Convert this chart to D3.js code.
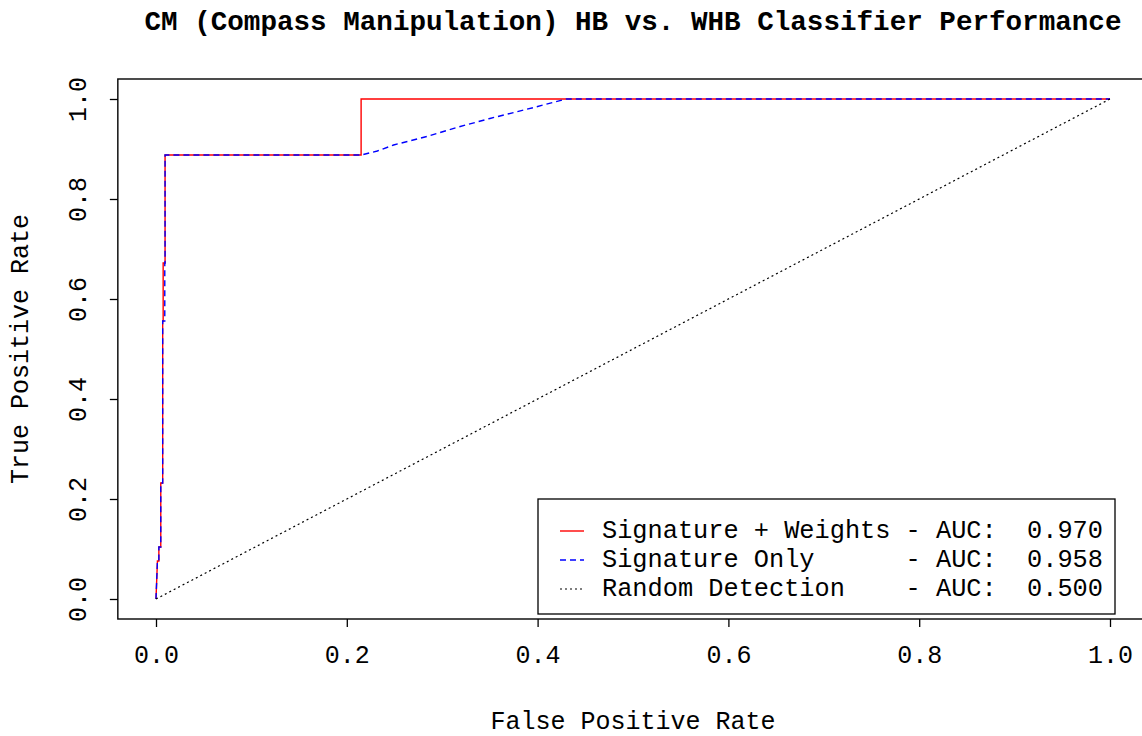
<!DOCTYPE html>
<html>
<head>
<meta charset="utf-8">
<script src="https://cdn.jsdelivr.net/npm/d3@7"></script>
<style>
  html, body { margin: 0; padding: 0; background: #fff; }
  svg { display: block; }
  text { font-family: "Liberation Mono", "DejaVu Sans Mono", monospace; fill: #000; }
</style>
</head>
<body>
<svg id="chart" width="1142" height="736"></svg>
<script>
// ROC curve points (false positive rate, true positive rate)
const sigWeightsFPR = [0, 0.0015, 0.003, 0.003, 0.005, 0.005, 0.007, 0.007, 0.0075, 0.0075, 0.0095, 0.0095, 0.215, 0.215, 1];
const sigWeightsTPR = [0, 0.076, 0.076, 0.104, 0.104, 0.232, 0.232, 0.556, 0.556, 0.672, 0.672, 0.888, 0.888, 1, 1];

const sigOnlyFPR = [0, 0.0015, 0.003, 0.003, 0.005, 0.005, 0.007, 0.007, 0.0092, 0.0092, 0.0095, 0.0095, 0.215, 0.232, 0.249, 0.284, 0.315, 0.350, 0.396, 0.43, 1];
const sigOnlyTPR = [0, 0.076, 0.076, 0.104, 0.104, 0.232, 0.232, 0.556, 0.556, 0.672, 0.672, 0.888, 0.888, 0.896, 0.908, 0.925, 0.943, 0.961, 0.983, 1, 1];

const randomFPR = [0, 1];
const randomTPR = [0, 1];

const axisTicks = [0, 0.2, 0.4, 0.6, 0.8, 1.0];

const legendLabels = [
  "Signature + Weights - AUC:  0.970",
  "Signature Only      - AUC:  0.958",
  "Random Detection    - AUC:  0.500"
];

const titleText = "CM (Compass Manipulation) HB vs. WHB Classifier Performance";
const xTitle = "False Positive Rate";
const yTitle = "True Positive Rate";

const svg = d3.select("#chart");

// Scales: data range 0..1 with the usual 4% padding on each side
const x = d3.scaleLinear().domain([0, 1]).range([156, 1110]);
const y = d3.scaleLinear().domain([0, 1]).range([599, 99]);
const pad = 0.04;
const boxL = x(-pad), boxR = x(1 + pad), boxT = y(1 + pad), boxB = y(-pad);

svg.append("defs").append("clipPath").attr("id", "plotClip")
  .append("rect").attr("x", boxL).attr("y", boxT)
  .attr("width", boxR - boxL).attr("height", boxB - boxT);

const zip = (xs, ys) => xs.map((v, i) => [v, ys[i]]);
const line = d3.line().x(d => x(d[0])).y(d => y(d[1]));

const plot = svg.append("g").attr("clip-path", "url(#plotClip)");

plot.append("path").datum(zip(sigWeightsFPR, sigWeightsTPR))
  .attr("d", line).attr("fill", "none")
  .attr("stroke", "#ff0000").attr("stroke-width", 1.4);

plot.append("path").datum(zip(sigOnlyFPR, sigOnlyTPR))
  .attr("d", line).attr("fill", "none")
  .attr("stroke", "#0000ff").attr("stroke-width", 1.4)
  .attr("stroke-dasharray", "6,4");

plot.append("path").datum(zip(randomFPR, randomTPR))
  .attr("d", line).attr("fill", "none")
  .attr("stroke", "#000").attr("stroke-width", 1.2)
  .attr("stroke-dasharray", "2,3");

// Plot frame
svg.append("rect")
  .attr("x", boxL).attr("y", boxT)
  .attr("width", boxR - boxL).attr("height", boxB - boxT)
  .attr("fill", "none").attr("stroke", "#000").attr("stroke-width", 1.4);

// Axes
const fmt = d3.format(".1f");
const xAxis = svg.append("g").attr("transform", `translate(0,${boxB})`)
  .call(d3.axisBottom(x).tickValues(axisTicks).tickFormat(fmt).tickSize(8).tickPadding(28));
const yAxis = svg.append("g").attr("transform", `translate(${boxL},0)`)
  .call(d3.axisLeft(y).tickValues(axisTicks).tickFormat(fmt).tickSize(8).tickPadding(22));

[xAxis, yAxis].forEach(g => {
  g.select(".domain").remove();
  g.selectAll(".tick line").attr("stroke", "#000").attr("stroke-width", 1.3);
  g.selectAll(".tick text").attr("font-family", "Liberation Mono").attr("font-size", 25).attr("fill", "#000");
});
xAxis.selectAll(".tick text").attr("dy", "0.3em");
yAxis.selectAll(".tick text")
  .attr("text-anchor", "middle")
  .attr("x", null).attr("dy", null)
  .attr("transform", "translate(-38,0) rotate(-90)")
  .attr("y", 0)
  .attr("dominant-baseline", "central");

// Titles
svg.append("text").attr("x", (boxL + boxR) / 2).attr("y", 30)
  .attr("text-anchor", "middle").attr("font-size", 27.6).attr("font-weight", "bold")
  .text(titleText);
svg.append("text").attr("x", (boxL + boxR) / 2).attr("y", 729)
  .attr("text-anchor", "middle").attr("font-size", 25)
  .text(xTitle);
svg.append("text").attr("transform", `translate(28,${(boxT + boxB) / 2}) rotate(-90)`)
  .attr("text-anchor", "middle").attr("font-size", 25)
  .text(yTitle);

// Legend
const legX = 538, legY = 499, legW = 577, legH = 115;
const leg = svg.append("g");
leg.append("rect").attr("x", legX).attr("y", legY).attr("width", legW).attr("height", legH)
  .attr("fill", "#fff").attr("stroke", "#000").attr("stroke-width", 1.3);
const legStyles = [
  { color: "#ff0000", dash: null, w: 1.4 },
  { color: "#0000ff", dash: "6,4", w: 1.4 },
  { color: "#000", dash: "2,3", w: 1.2 }
];
legendLabels.forEach((lab, i) => {
  const ry = legY + 32 + i * 29;
  leg.append("line").attr("x1", legX + 22).attr("x2", legX + 46)
    .attr("y1", ry).attr("y2", ry)
    .attr("stroke", legStyles[i].color).attr("stroke-width", legStyles[i].w)
    .attr("stroke-dasharray", legStyles[i].dash);
  leg.append("text").attr("x", legX + 64).attr("y", ry)
    .attr("dominant-baseline", "central").attr("font-size", 25.3)
    .attr("xml:space", "preserve").style("white-space", "pre")
    .text(lab);
});
</script>
</body>
</html>
